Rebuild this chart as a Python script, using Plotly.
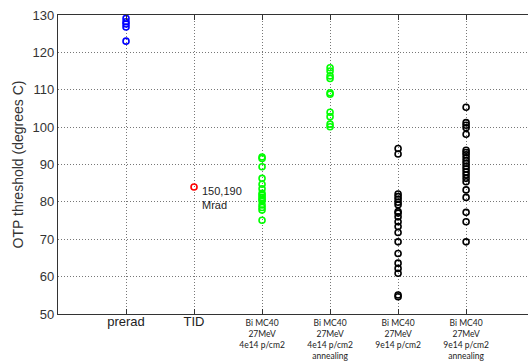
import plotly.graph_objects as go

# Category positions and labels along the x axis
cat_pos = [1, 2, 3, 4, 5, 6]
cat_labels = [
    "prerad",
    "TID",
    "Bi MC40<br>27MeV<br>4e14 p/cm2",
    "Bi MC40<br>27MeV<br>4e14 p/cm2<br>annealing",
    "Bi MC40<br>27MeV<br>9e14 p/cm2",
    "Bi MC40<br>27MeV<br>9e14 p/cm2<br>annealing",
]

# OTP threshold readings (degrees C) per condition
prerad = [129.1, 128.2, 127.6, 126.8, 123.0]
tid = [84.0]
mc40_4e14 = [92.0, 91.6, 89.4, 86.3, 84.7, 83.5, 82.3, 81.8, 81.2, 80.7,
             80.3, 79.2, 78.5, 77.8, 75.1]
mc40_4e14_ann = [115.9, 115.0, 113.7, 113.0, 109.2, 108.8, 104.0, 102.8,
                 100.8, 100.1]
mc40_9e14 = [94.3, 92.8, 82.1, 81.4, 80.7, 79.9, 79.2, 77.4, 77.0, 76.0,
             74.7, 73.4, 71.8, 69.3, 66.2, 63.6, 62.2, 60.9, 55.1, 54.6]
mc40_9e14_ann = [105.3, 101.2, 100.5, 99.8, 98.1, 93.8, 93.2, 92.6, 91.8,
                 91.0, 90.3, 89.5, 88.8, 88.0, 87.2, 86.3, 85.4, 83.2, 81.2,
                 77.2, 74.7, 69.3]

y_ticks = [50, 60, 70, 80, 90, 100, 110, 120, 130]

groups = [
    (cat_pos[0], prerad, "#0000ff"),
    (cat_pos[1], tid, "#ff0000"),
    (cat_pos[2], mc40_4e14, "#00ff00"),
    (cat_pos[3], mc40_4e14_ann, "#00ff00"),
    (cat_pos[4], mc40_9e14, "#000000"),
    (cat_pos[5], mc40_9e14_ann, "#000000"),
]

fig = go.Figure()
for xpos, vals, color in groups:
    fig.add_trace(go.Scatter(
        x=[xpos] * len(vals), y=vals, mode="markers",
        marker=dict(symbol="circle-open", size=6, color=color,
                    line=dict(width=1.6, color=color)),
        showlegend=False, hoverinfo="y",
    ))

# Tick text: first two categories in a larger sans font, the rest small
tick_text = []
for i, lab in enumerate(cat_labels):
    if i < 2:
        tick_text.append('<span style="font-size:13px;font-family:\'Liberation Sans\'">'
                         + lab + "</span>")
    else:
        tick_text.append(lab)

fig.add_annotation(
    x=cat_pos[1], y=tid[0], xref="x", yref="y",
    text="150,190<br>Mrad", showarrow=False, xanchor="left", yanchor="top",
    xshift=6, yshift=4, align="left",
    font=dict(family="Liberation Sans, Arial", size=11, color="#222222"),
)

dot = "1px,2px"

fig.update_layout(
    width=528, height=362,
    margin=dict(l=58, r=0, t=15, b=48),
    paper_bgcolor="white", plot_bgcolor="white",
    font=dict(family="Liberation Sans, Arial", color="#333333"),
)

fig.update_xaxes(
    range=[0, 6.91], tickmode="array", tickvals=cat_pos, ticktext=tick_text,
    tickfont=dict(family="Lato, Liberation Sans", size=8.5, color="#222222"),
    ticklabelstandoff=1, automargin=False,
    showgrid=True, gridcolor="#777777", griddash=dot, gridwidth=1,
    showline=True, linecolor="#333333", linewidth=1.2, mirror="ticks",
    ticks="inside", ticklen=5, tickcolor="#333333", zeroline=False,
)
fig.update_yaxes(
    range=[50, 130], tickmode="array", tickvals=y_ticks, automargin=False,
    tickfont=dict(family="Liberation Sans, Arial", size=13, color="#333333"),
    title=dict(text="OTP threshold (degrees C)", standoff=5,
               font=dict(family="Liberation Sans, Arial", size=14,
                         color="#333333")),
    showgrid=True, gridcolor="#777777", griddash=dot, gridwidth=1,
    showline=True, linecolor="#333333", linewidth=1.2, mirror=False,
    ticks="", zeroline=False,
)

fig.write_html("out.html")
